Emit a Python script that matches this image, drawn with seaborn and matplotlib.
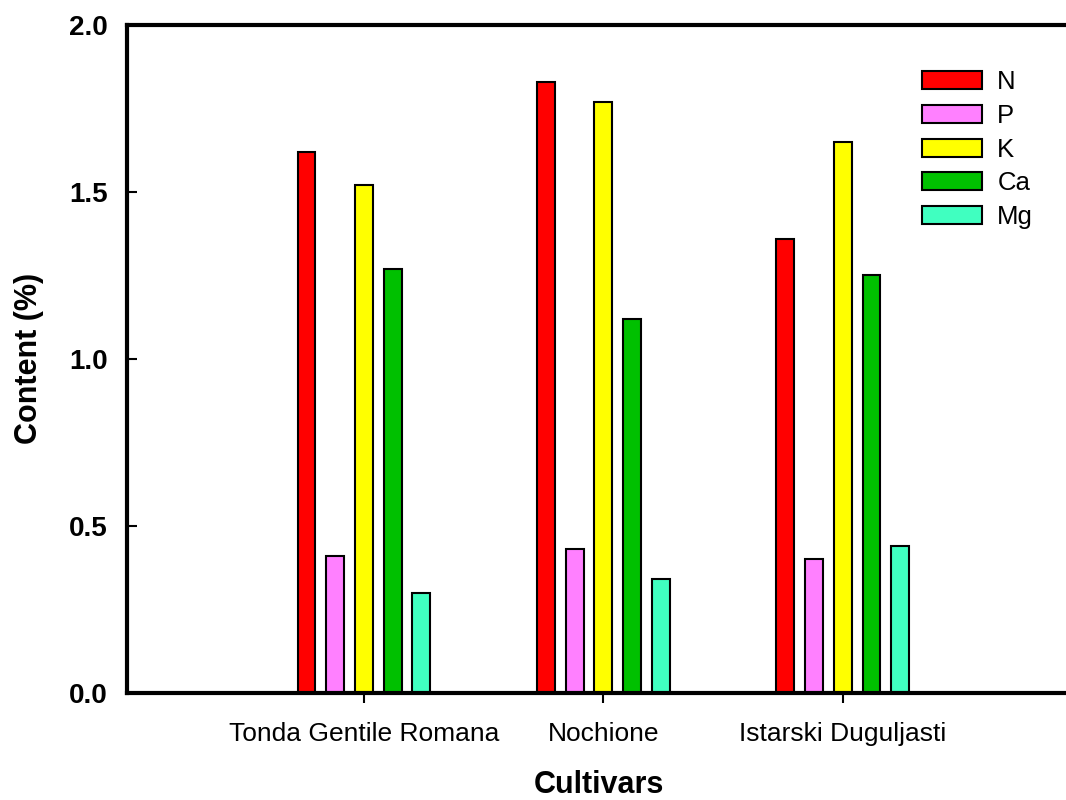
import matplotlib.pyplot as plt
import pandas as pd
import seaborn as sns

cultivars = ["Tonda Gentile Romana", "Nochione", "Istarski Duguljasti"]
nutrients = ["N", "P", "K", "Ca", "Mg"]
n_vals = [1.62, 1.83, 1.36]
p_vals = [0.41, 0.43, 0.40]
k_vals = [1.52, 1.77, 1.65]
ca_vals = [1.27, 1.12, 1.25]
mg_vals = [0.30, 0.34, 0.44]
colors = ["#FF0000", "#FF80FF", "#FFFF00", "#00C000", "#40FFC0"]


def main():
    series = [n_vals, p_vals, k_vals, ca_vals, mg_vals]
    rows = []
    for nut, vals in zip(nutrients, series):
        for cv, v in zip(cultivars, vals):
            rows.append({"Cultivar": cv, "Nutrient": nut, "Content": v})
    df = pd.DataFrame(rows)

    sns.set_theme(style="white")
    plt.rcParams["font.family"] = ["Liberation Sans", "DejaVu Sans"]
    plt.rcParams["text.color"] = "black"
    plt.rcParams["xtick.color"] = "black"
    plt.rcParams["ytick.color"] = "black"
    plt.rcParams["axes.labelcolor"] = "black"

    fig = plt.figure(figsize=(10.66, 8), dpi=100)
    ax = fig.add_axes([0.119, 0.134, 0.885, 0.835])

    sns.barplot(
        data=df,
        x="Cultivar",
        y="Content",
        hue="Nutrient",
        order=cultivars,
        hue_order=nutrients,
        palette=colors,
        saturation=1,
        width=0.6,
        gap=0.38,
        edgecolor="black",
        linewidth=1.5,
        ax=ax,
    )

    ax.set_xlim(-0.99, 2.95)
    ax.set_ylim(0, 2.0)
    ax.set_yticks([0.0, 0.5, 1.0, 1.5, 2.0])
    ax.set_yticklabels(["0.0", "0.5", "1.0", "1.5", "2.0"], fontsize=20, fontweight="bold")
    ax.tick_params(axis="x", direction="out", length=7, width=1.5, labelsize=19, pad=14, bottom=True)
    ax.tick_params(axis="y", direction="in", length=7, width=1.5, pad=14, left=True)

    for side in ["left", "top", "bottom"]:
        ax.spines[side].set_linewidth(3)
        ax.spines[side].set_color("black")
    ax.spines["right"].set_visible(False)

    ax.set_xlabel("Cultivars", fontsize=22, fontweight="bold", labelpad=17)
    ax.set_ylabel("Content (%)", fontsize=22, fontweight="bold", labelpad=18)

    leg = ax.legend(
        loc="upper left",
        bbox_to_anchor=(922 / 1066, 1 - 70 / 800),
        bbox_transform=fig.transFigure,
        frameon=False,
        fontsize=18.5,
        handlelength=2.33,
        handleheight=0.7,
        handletextpad=0.6,
        labelspacing=0.38,
        borderpad=0,
        borderaxespad=0,
    )
    for h in leg.legend_handles:
        h.set_edgecolor("black")
        h.set_linewidth(1.5)

    fig.savefig("out.png", dpi=100, facecolor="white")
    plt.close(fig)


if __name__ == "__main__":
    main()
